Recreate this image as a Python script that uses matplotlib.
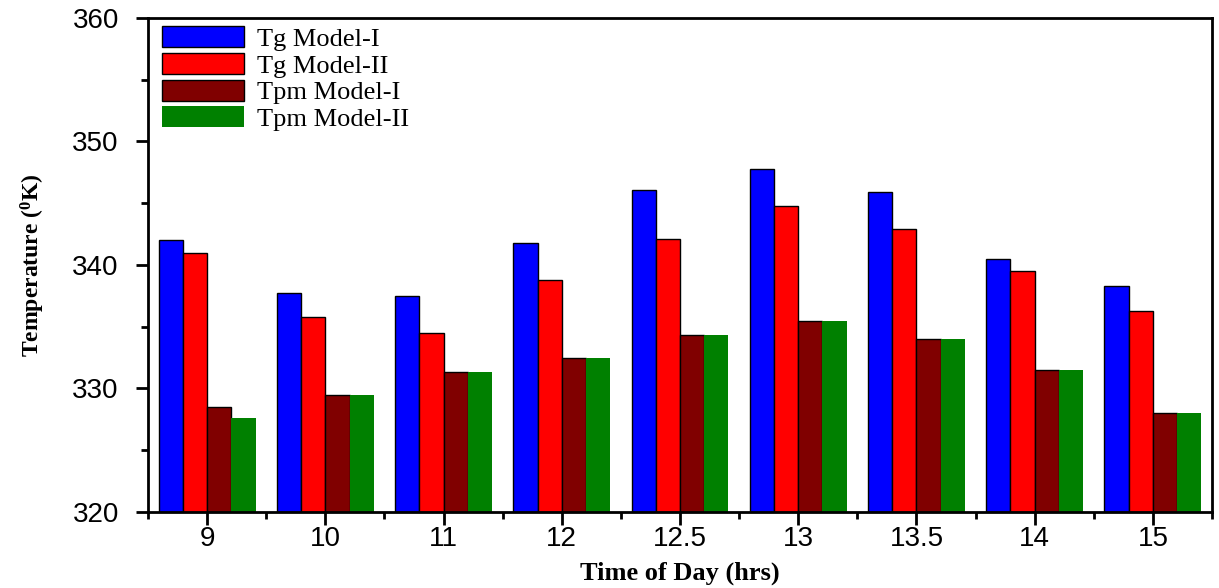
import numpy as np
import matplotlib
matplotlib.use("Agg")
import matplotlib.pyplot as plt
from matplotlib.ticker import MultipleLocator

hours = ["9", "10", "11", "12", "12.5", "13", "13.5", "14", "15"]
tg_model1 = [342.0, 337.7, 337.5, 341.8, 346.1, 347.8, 345.9, 340.5, 338.3]
tg_model2 = [341.0, 335.8, 334.5, 338.8, 342.1, 344.8, 342.9, 339.5, 336.3]
tpm_model1 = [328.5, 329.5, 331.3, 332.5, 334.3, 335.5, 334.0, 331.5, 328.0]
tpm_model2 = [327.6, 329.5, 331.3, 332.5, 334.3, 335.5, 334.0, 331.5, 328.0]

series = [
    ("Tg Model-I", tg_model1, "#0000ff", "black"),
    ("Tg Model-II", tg_model2, "#ff0000", "black"),
    ("Tpm Model-I", tpm_model1, "#800000", "black"),
    ("Tpm Model-II", tpm_model2, "#008000", "none"),
]

fig = plt.figure(figsize=(12.19, 5.88), dpi=100)
ax = fig.add_axes([0.1214, 0.1293, 0.8729, 0.8401])

x = np.arange(len(hours))
w = 0.205
for i, (label, vals, color, ec) in enumerate(series):
    ax.bar(x + (i - 1.5) * w, np.array(vals) - 320, w, bottom=320, color=color,
           edgecolor=ec, linewidth=1.0, label=label)

ax.set_xlim(-0.5, 8.5)
ax.set_ylim(320, 360)
ax.set_xticks(x)
ax.set_xticklabels(hours, fontsize=20, family="Liberation Sans")
ax.xaxis.set_minor_locator(MultipleLocator(0.5))
ax.yaxis.set_major_locator(MultipleLocator(10))
ax.yaxis.set_minor_locator(MultipleLocator(5))
for t in ax.get_yticklabels():
    t.set_fontsize(20)
    t.set_family("Liberation Sans")
ax.tick_params(which="major", direction="out", length=9, width=2)
ax.tick_params(axis="y", which="major", pad=12)
ax.tick_params(axis="x", which="major", pad=1)
ax.tick_params(which="minor", direction="out", length=5, width=2)
for s in ax.spines.values():
    s.set_linewidth(2)

ax.set_xlabel("Time of Day (hrs)", fontsize=19, family="Liberation Serif",
              fontweight="bold", labelpad=7)
ax.set_ylabel("Temperature ($\\mathregular{^0}$K)", fontsize=17, family="Liberation Serif",
              fontweight="bold", labelpad=18)

ax.legend(loc="upper left", frameon=False, prop={"family": "Liberation Serif", "size": 19},
          handlelength=3.1, handleheight=0.85, labelspacing=0.08, handletextpad=0.5,
          borderaxespad=0.0, bbox_to_anchor=(0.003, 1.005))

fig.savefig("out.png", dpi=100)
